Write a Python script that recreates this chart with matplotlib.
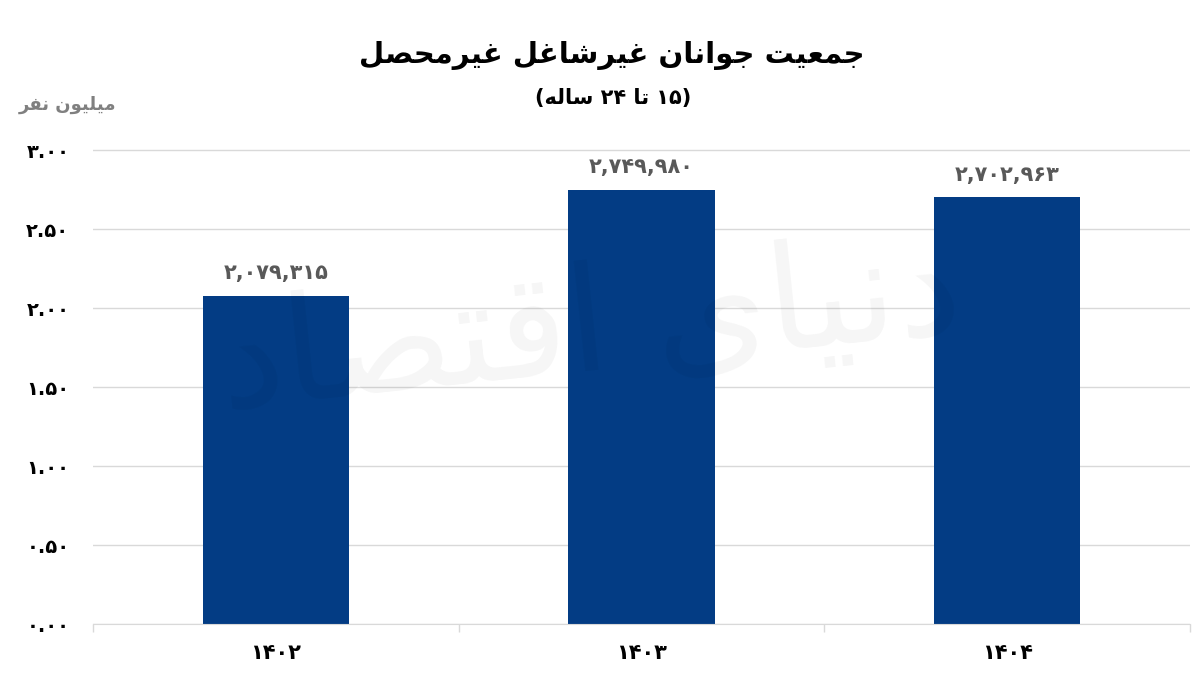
import re
import matplotlib
matplotlib.use("Agg")
import matplotlib.pyplot as plt
from matplotlib.ticker import FixedLocator

plt.rcParams["font.family"] = ["DejaVu Sans"]

# داده‌ها
years = [1402, 1403, 1404]
population = [2079315, 2749980, 2702963]
y_ticks = [0.0, 0.5, 1.0, 1.5, 2.0, 2.5, 3.0]

TITLE = "جمعیت جوانان غیرشاغل غیرمحصل"
SUBTITLE = "(۱۵ تا ۲۴ ساله)"
Y_UNIT = "میلیون نفر"
WATERMARK = "دنیای اقتصاد"

BAR_COLOR = "#033c84"
GRID_COLOR = "#d9d9d9"

# شکل حروف (منفرد، پایانی، آغازی، میانی)
FORMS = {
    "ا": ("\uFE8D", "\uFE8E", None, None),
    "د": ("\uFEA9", "\uFEAA", None, None),
    "ر": ("\uFEAD", "\uFEAE", None, None),
    "و": ("\uFEED", "\uFEEE", None, None),
    "ت": ("\uFE95", "\uFE96", "\uFE97", "\uFE98"),
    "ج": ("\uFE9D", "\uFE9E", "\uFE9F", "\uFEA0"),
    "ح": ("\uFEA1", "\uFEA2", "\uFEA3", "\uFEA4"),
    "س": ("\uFEB1", "\uFEB2", "\uFEB3", "\uFEB4"),
    "ش": ("\uFEB5", "\uFEB6", "\uFEB7", "\uFEB8"),
    "ص": ("\uFEB9", "\uFEBA", "\uFEBB", "\uFEBC"),
    "ع": ("\uFEC9", "\uFECA", "\uFECB", "\uFECC"),
    "غ": ("\uFECD", "\uFECE", "\uFECF", "\uFED0"),
    "ف": ("\uFED1", "\uFED2", "\uFED3", "\uFED4"),
    "ق": ("\uFED5", "\uFED6", "\uFED7", "\uFED8"),
    "ل": ("\uFEDD", "\uFEDE", "\uFEDF", "\uFEE0"),
    "م": ("\uFEE1", "\uFEE2", "\uFEE3", "\uFEE4"),
    "ن": ("\uFEE5", "\uFEE6", "\uFEE7", "\uFEE8"),
    "ه": ("\uFEE9", "\uFEEA", "\uFEEB", "\uFEEC"),
    "ی": ("\uFEEF", "\uFEF0", "\uFEF3", "\uFEF4"),
}
ARABIC_RUN = re.compile("[" + "".join(FORMS) + "]+")
NUMBER_RUN = re.compile("[۰-۹0-9][۰-۹0-9.,]*")


def shape_word(word):
    out = []
    for i, c in enumerate(word):
        iso, fin, ini, med = FORMS[c]
        prev = word[i - 1] if i > 0 else None
        nxt = word[i + 1] if i + 1 < len(word) else None
        jp = prev is not None and FORMS[prev][2] is not None
        jn = ini is not None and nxt is not None
        out.append(med if jp and jn else fin if jp else ini if jn else iso)
    return "".join(out)


def fa(text):
    # شکل‌دهی حروف و چیدمان راست به چپ (اعداد چپ به راست می‌مانند)
    shaped = ARABIC_RUN.sub(lambda m: shape_word(m.group()), text)
    visual = shaped[::-1]
    visual = NUMBER_RUN.sub(lambda m: m.group()[::-1], visual)
    return visual.translate(str.maketrans("()", ")("))


def fa_digits(s):
    return s.translate(str.maketrans("0123456789", "۰۱۲۳۴۵۶۷۸۹"))


fig = plt.figure(figsize=(12, 6.91), dpi=100)
ax = fig.add_axes([93 / 1200, (691 - 624) / 691, 1097 / 1200, (624 - 147) / 691])

x = list(range(len(years)))
values = [p / 1e6 for p in population]
ax.bar(x, values, width=0.4, color=BAR_COLOR, zorder=2)

for xi, p, v in zip(x, population, values):
    ax.annotate(fa_digits(f"{p:,}"), (xi, v), xytext=(0, 9), textcoords="offset points",
                ha="center", va="bottom", fontsize=15, fontweight="bold", color="#595959")

ax.set_xlim(-0.5, 2.5)
ax.set_ylim(0, 3.02)
ax.set_yticks(y_ticks)
ax.set_yticklabels([fa_digits(f"{t:.2f}") for t in y_ticks], fontsize=14, fontweight="bold")
ax.yaxis.grid(True, color=GRID_COLOR, lw=1, zorder=0)
ax.set_axisbelow(True)
ax.tick_params(axis="y", length=0, pad=17)

ax.set_xticks(x)
ax.set_xticklabels([fa_digits(str(y)) for y in years], fontsize=15, fontweight="bold")
ax.xaxis.set_minor_locator(FixedLocator([-0.5, 0.5, 1.5, 2.5]))
ax.tick_params(axis="x", which="major", length=0, pad=14)
ax.tick_params(axis="x", which="minor", length=6, color=GRID_COLOR, width=1)

for side in ["top", "right", "left"]:
    ax.spines[side].set_visible(False)
ax.spines["bottom"].set_color(GRID_COLOR)

fig.text(612 / 1200, 1 - 55 / 691, fa(TITLE), ha="center", va="center",
         fontsize=21, fontweight="bold", color="black")
fig.text(613 / 1200, 1 - 98 / 691, fa(SUBTITLE), ha="center", va="center",
         fontsize=15, fontweight="bold", color="black")
fig.text(68 / 1200, 1 - 105 / 691, fa(Y_UNIT), ha="center", va="center",
         fontsize=13, fontweight="bold", color="#808080")

# واترمارک
fig.text(590 / 1200, 1 - 330 / 691, fa(WATERMARK), ha="center", va="center", fontsize=105,
         color="#000000", alpha=0.04, rotation=6, zorder=5)

fig.savefig("out.png", dpi=100, facecolor="white")
